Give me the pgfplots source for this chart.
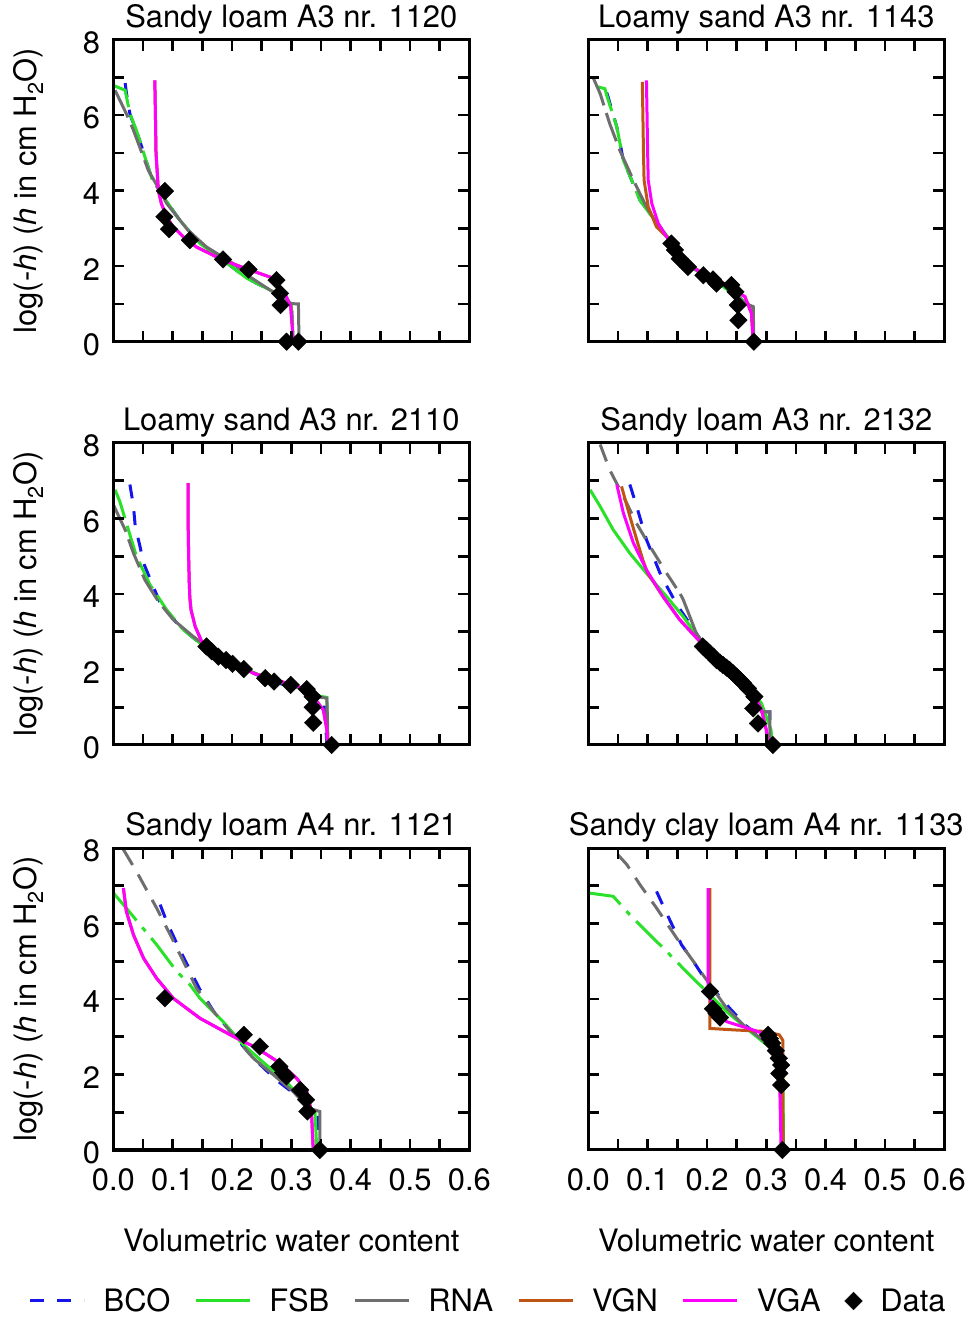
\documentclass[border=0pt]{standalone}
\usepackage{pgfplots}
\pgfplotsset{compat=1.18}
\usepackage{fontspec}
\setmainfont{TeX Gyre Heros}
\newcommand\fs{\fontsize{31}{37}\selectfont}
\definecolor{cB}{RGB}{20,20,235}
\definecolor{cF}{RGB}{40,225,40}
\definecolor{cR}{RGB}{110,110,110}
\definecolor{cN}{RGB}{190,85,20}
\definecolor{cA}{RGB}{255,0,255}

\pgfplotsset{
  panel/.style={scale only axis, width=356bp, height=302bp, anchor=south west,
    xmin=0, xmax=0.6, ymin=0, ymax=8,
    xtick={0,0.1,0.2,0.3,0.4,0.5,0.6}, minor xtick={0.05,0.15,0.25,0.35,0.45,0.55},
    ytick={0,2,4,6,8}, minor ytick={1,3,5,7},
    xticklabels={}, yticklabels={},
    tick align=inside, major tick length=11bp, minor tick length=11bp,
    axis line style={line width=3bp}, tick style={black, line width=2.6bp},
    tick label style={font=\fs},
    title style={at={(0.5,1.022)}, anchor=base, font=\fs},
    label style={font=\fs},
    axis on top},
  leftcol/.style={yticklabels={0,2,4,6,8},
    yticklabel style={anchor=east, inner sep=0pt, xshift=-13bp, yshift=-3bp},
    ylabel={log(-\textit{h}) (\textit{h} in cm H\textsubscript{2}O)},
    ylabel style={at={(axis description cs:-0.2163,0.5)}, anchor=base}},
  bottomrow/.style={xticklabels={0.0,0.1,0.2,0.3,0.4,0.5,0.6},
    xticklabel style={anchor=base, inner sep=0pt, yshift=-40bp},
    xlabel={Volumetric water content},
    xlabel style={at={(axis description cs:0.5,-0.3368)}, anchor=base}},
  bco/.style={color=cB, line width=3bp, mark=none, dash pattern=on 14bp off 13bp},
  fsb/.style={color=cF, line width=3bp, mark=none},
  rna/.style={color=cR, line width=3bp, mark=none},
  vgn/.style={color=cN, line width=3bp, mark=none},
  vga/.style={color=cA, line width=3bp, mark=none},
  ext/.style={dash pattern=on 30bp off 8bp},
  rnax/.style={dash pattern=on 18bp off 11bp},
  fsbx/.style={dash pattern=on 36bp off 9bp on 5bp off 9bp},
  dat/.style={only marks, mark=square*, mark size=6.2bp,
    mark options={rotate=45, fill=black, draw=black, solid}},
}

\begin{document}
\begin{tikzpicture}
\useasboundingbox (0bp,0bp) rectangle (969bp,1319bp);

% Sandy loam A3 nr. 1120
\begin{axis}[panel, leftcol, at={(113.3bp,977.3bp)}, title={Sandy loam A3 nr. 1120}]
\addplot[bco] coordinates {(0.020,6.85)(0.022,6.6)(0.028,6.04)(0.031,5.9)(0.039,5.6)(0.065,4.32)(0.080,3.95)(0.095,3.6)(0.112,3.22)(0.146,2.60)(0.185,2.16)(0.225,1.68)(0.270,1.32)(0.289,1.19)(0.300,1.0)(0.302,0.5)(0.303,0)};
\addplot[fsb, ext] coordinates {(0.0,6.79)(0.020,6.66)(0.028,6.04)(0.039,5.6)(0.065,4.32)(0.080,3.95)};
\addplot[fsb] coordinates {(0.080,3.95)(0.095,3.6)(0.112,3.22)(0.146,2.60)(0.185,2.16)(0.225,1.68)(0.270,1.32)(0.289,1.19)(0.300,1.0)(0.302,0.5)(0.303,0)};
\addplot[rna, ext] coordinates {(0.003,6.66)(0.022,6.04)(0.034,5.6)(0.059,4.54)(0.075,4.1)};
\addplot[rna] coordinates {(0.075,4.1)(0.09,3.66)(0.126,2.95)(0.157,2.51)(0.202,2.07)(0.230,1.72)(0.264,1.37)(0.284,1.19)(0.298,1.01)(0.312,1.0)(0.313,0)};
\addplot[vgn] coordinates {(0.070,6.92)(0.071,6.0)(0.072,5.0)(0.074,4.5)(0.076,4.0)(0.081,3.66)(0.090,3.3)(0.101,3.04)(0.120,2.75)(0.140,2.51)(0.185,2.16)(0.230,1.9)(0.270,1.68)(0.289,1.28)(0.299,0.93)(0.302,0.31)(0.303,0)};
\addplot[vga] coordinates {(0.070,6.92)(0.071,6.0)(0.072,5.0)(0.074,4.5)(0.076,4.0)(0.081,3.66)(0.090,3.3)(0.101,3.04)(0.120,2.75)(0.140,2.51)(0.185,2.16)(0.230,1.9)(0.270,1.68)(0.289,1.28)(0.299,0.93)(0.302,0.31)(0.303,0)};
\addplot[dat] coordinates {(0.087,3.99)(0.086,3.31)(0.094,2.98)(0.129,2.69)(0.185,2.18)(0.228,1.91)(0.275,1.63)(0.281,1.28)(0.282,0.97)(0.292,0)(0.312,0)};
\end{axis}

% Loamy sand A3 nr. 1143
\begin{axis}[panel, at={(588.3bp,977.3bp)}, title={Loamy sand A3 nr. 1143}]
\addplot[bco] coordinates {(0.031,6.6)(0.033,6.5)(0.048,5.69)(0.059,4.81)(0.087,3.75)(0.121,3.04)(0.140,2.65)(0.165,2.07)(0.194,1.76)(0.227,1.46)(0.264,1.06)(0.275,0.93)(0.278,0)};
\addplot[fsb, ext] coordinates {(0.017,6.75)(0.028,6.70)(0.031,6.53)(0.048,5.69)(0.059,4.81)(0.087,3.75)(0.110,3.25)};
\addplot[fsb] coordinates {(0.110,3.25)(0.121,3.04)(0.140,2.65)(0.165,2.07)(0.194,1.76)(0.227,1.46)(0.264,1.06)(0.275,0.93)(0.278,0)};
\addplot[rna, ext] coordinates {(0.008,7.0)(0.020,6.57)(0.036,5.78)(0.053,5.07)(0.076,4.28)(0.098,3.57)};
\addplot[rna] coordinates {(0.098,3.57)(0.123,2.95)(0.140,2.65)(0.165,2.1)(0.194,1.8)(0.238,1.46)(0.264,1.01)(0.278,0.93)(0.279,0)};
\addplot[vgn] coordinates {(0.091,6.88)(0.092,6.0)(0.093,5.0)(0.094,4.28)(0.101,3.57)(0.115,3.04)(0.132,2.78)(0.145,2.5)(0.165,2.07)(0.188,1.85)(0.233,1.50)(0.264,1.19)(0.275,0.75)(0.278,0)};
\addplot[vga] coordinates {(0.098,6.92)(0.099,6.0)(0.100,5.0)(0.101,4.28)(0.107,3.66)(0.118,3.13)(0.132,2.78)(0.145,2.5)(0.165,2.07)(0.188,1.85)(0.233,1.50)(0.264,1.19)(0.275,0.75)(0.278,0)};
\addplot[dat] coordinates {(0.140,2.60)(0.146,2.43)(0.154,2.20)(0.168,1.98)(0.194,1.76)(0.210,1.65)(0.216,1.54)(0.241,1.50)(0.248,1.32)(0.252,0.97)(0.253,0.57)(0.279,0)};
\end{axis}

% Loamy sand A3 nr. 2110
\begin{axis}[panel, leftcol, at={(113.3bp,574bp)}, title={Loamy sand A3 nr. 2110}]
\addplot[bco] coordinates {(0.028,6.9)(0.034,6.32)(0.037,5.79)(0.045,5.26)(0.051,4.82)(0.062,4.4)(0.079,3.76)(0.107,3.23)(0.130,2.90)(0.146,2.70)(0.157,2.61)(0.190,2.25)(0.22,2.0)(0.27,1.68)(0.33,1.4)(0.355,1.25)(0.36,0)};
\addplot[fsb, ext] coordinates {(0.003,6.76)(0.011,6.45)(0.022,5.88)(0.039,5.0)(0.062,4.24)(0.090,3.58)(0.118,3.05)};
\addplot[fsb] coordinates {(0.118,3.05)(0.146,2.70)(0.160,2.58)(0.190,2.28)(0.22,2.03)(0.26,1.76)(0.30,1.58)(0.33,1.42)(0.345,1.30)(0.360,1.26)(0.361,0)};
\addplot[rna, ext] coordinates {(0.0,6.37)(0.008,6.10)(0.020,5.70)(0.034,5.08)(0.053,4.38)(0.076,3.80)(0.101,3.32)};
\addplot[rna] coordinates {(0.101,3.32)(0.135,2.87)(0.157,2.62)(0.190,2.26)(0.22,2.02)(0.26,1.76)(0.30,1.58)(0.326,1.46)(0.343,1.28)(0.360,1.24)(0.362,0)};
\addplot[vgn] coordinates {(0.126,6.94)(0.126,6.0)(0.127,5.0)(0.128,4.3)(0.129,3.9)(0.131,3.58)(0.138,3.14)(0.149,2.74)(0.160,2.58)(0.190,2.28)(0.236,1.90)(0.292,1.64)(0.320,1.5)(0.337,1.28)(0.354,0.93)(0.360,0.4)(0.361,0)};
\addplot[vga] coordinates {(0.126,6.94)(0.126,6.0)(0.127,5.0)(0.128,4.3)(0.129,3.9)(0.131,3.58)(0.138,3.14)(0.149,2.74)(0.160,2.58)(0.190,2.28)(0.236,1.90)(0.292,1.64)(0.320,1.5)(0.337,1.28)(0.354,0.93)(0.360,0.4)(0.361,0)};
\addplot[dat] coordinates {(0.157,2.61)(0.166,2.48)(0.177,2.34)(0.190,2.25)(0.201,2.15)(0.220,2.01)(0.256,1.77)(0.271,1.68)(0.299,1.59)(0.326,1.48)(0.336,1.28)(0.336,1.0)(0.337,0.59)(0.368,0)};
\end{axis}

% Sandy loam A3 nr. 2132
\begin{axis}[panel, at={(588.3bp,574bp)}, title={Sandy loam A3 nr. 2132}]
\addplot[bco] coordinates {(0.070,6.90)(0.080,6.4)(0.098,5.44)(0.123,4.47)(0.150,3.7)(0.182,2.96)(0.193,2.70)(0.22,2.25)(0.25,1.85)(0.283,1.28)(0.292,0.88)(0.306,0.88)(0.306,0)};
\addplot[fsb] coordinates {(0.003,6.76)(0.020,6.32)(0.042,5.70)(0.070,5.08)(0.098,4.55)(0.132,3.93)(0.160,3.40)(0.188,2.79)(0.205,2.5)(0.23,2.1)(0.26,1.7)(0.28,1.35)(0.292,1.1)(0.300,0.75)(0.308,0.4)(0.310,0)};
\addplot[rna, rnax] coordinates {(0.020,7.96)(0.036,7.29)(0.059,6.59)(0.081,5.88)(0.104,5.26)(0.132,4.55)(0.155,4.0)};
\addplot[rna] coordinates {(0.155,4.0)(0.160,3.85)(0.182,2.96)(0.193,2.70)(0.22,2.25)(0.25,1.85)(0.283,1.28)(0.292,0.88)(0.306,0.88)(0.306,0)};
\addplot[vgn] coordinates {(0.056,6.85)(0.070,6.06)(0.084,5.31)(0.092,4.9)(0.100,4.55)(0.126,3.93)(0.154,3.32)(0.188,2.74)(0.205,2.5)(0.23,2.15)(0.255,1.8)(0.278,1.37)(0.292,0.93)(0.300,0.4)(0.303,0)};
\addplot[vga] coordinates {(0.048,6.90)(0.059,6.15)(0.076,5.35)(0.098,4.64)(0.126,3.93)(0.154,3.32)(0.188,2.74)(0.205,2.5)(0.23,2.15)(0.255,1.8)(0.278,1.37)(0.292,0.93)(0.300,0.4)(0.303,0)};
\addplot[dat] coordinates {(0.193,2.61)(0.199,2.52)(0.205,2.43)(0.211,2.34)(0.216,2.25)(0.222,2.18)(0.227,2.12)(0.233,2.05)(0.238,1.99)(0.244,1.90)(0.250,1.81)(0.256,1.72)(0.261,1.64)(0.269,1.50)(0.280,1.28)(0.278,0.97)(0.286,0.57)(0.311,0)};
\end{axis}

% Sandy loam A4 nr. 1121
\begin{axis}[panel, leftcol, bottomrow, at={(113.3bp,169bp)}, title={Sandy loam A4 nr. 1121},
  legend style={at={(1.05,-0.5)}, anchor=center, draw=none, fill=none, font=\fs,
    legend columns=6, nodes={inner xsep=0pt},
    /tikz/every even column/.append style={column sep=24bp},
    /tikz/every odd column/.append style={column sep=18bp}},
  legend image code/.code={\draw[mark repeat=2,mark phase=2,#1] plot coordinates {(0bp,0bp) (27bp,0bp) (54bp,0bp)};}]
\addplot[bco] coordinates {(0.079,6.50)(0.090,6.05)(0.112,5.30)(0.146,4.25)(0.17,3.65)(0.20,3.1)(0.235,2.45)(0.275,1.85)(0.30,1.55)(0.33,1.1)(0.345,1.02)(0.346,0)};
\addplot[fsb, fsbx, forget plot] coordinates {(0.0,6.81)(0.017,6.50)(0.045,5.97)(0.073,5.44)(0.107,4.73)(0.129,4.38)};
\addplot[fsb] coordinates {(0.129,4.38)(0.146,4.02)(0.185,3.40)(0.219,2.79)(0.258,2.25)(0.292,1.81)(0.320,1.28)(0.340,1.02)(0.343,0)};
\addplot[rna, rnax, forget plot] coordinates {(0.017,7.96)(0.039,7.38)(0.073,6.41)(0.096,5.70)(0.118,5.0)(0.140,4.29)(0.169,3.67)(0.197,3.14)(0.236,2.43)};
\addplot[rna] coordinates {(0.236,2.43)(0.270,1.99)(0.303,1.55)(0.329,1.11)(0.348,1.02)(0.348,0)};
\addplot[vgn] coordinates {(0.017,6.94)(0.022,6.32)(0.034,5.70)(0.051,5.08)(0.073,4.55)(0.101,4.02)(0.146,3.49)(0.202,3.01)(0.242,2.70)(0.281,2.30)(0.309,1.90)(0.326,1.55)(0.334,1.02)(0.337,0)};
\addplot[vga] coordinates {(0.017,6.94)(0.022,6.32)(0.034,5.70)(0.051,5.08)(0.073,4.55)(0.101,4.02)(0.146,3.49)(0.202,3.01)(0.242,2.70)(0.281,2.30)(0.309,1.90)(0.326,1.55)(0.334,1.02)(0.337,0)};
\addplot[dat] coordinates {(0.087,4.02)(0.220,3.05)(0.247,2.74)(0.280,2.21)(0.286,2.05)(0.292,1.95)(0.315,1.59)(0.325,1.33)(0.327,1.02)(0.348,0)};
\legend{BCO,FSB,RNA,VGN,VGA,Data}
\end{axis}

% Sandy clay loam A4 nr. 1133
\begin{axis}[panel, bottomrow, at={(588.3bp,169bp)}, title={Sandy clay loam A4 nr. 1133}]
\addplot[bco] coordinates {(0.115,6.85)(0.129,6.37)(0.157,5.44)(0.179,4.95)(0.199,4.47)(0.238,3.76)(0.265,3.3)(0.29,3.0)(0.31,2.7)(0.325,2.17)(0.329,0)};
\addplot[fsb, fsbx] coordinates {(0.0,6.81)(0.042,6.72)(0.070,6.23)(0.098,5.79)(0.132,5.26)(0.165,4.73)(0.199,4.20)};
\addplot[fsb] coordinates {(0.199,4.20)(0.233,3.67)(0.266,3.23)(0.294,2.87)(0.317,2.61)(0.328,2.17)(0.329,0)};
\addplot[rna, rnax] coordinates {(0.050,7.82)(0.065,7.56)(0.087,7.03)(0.115,6.41)(0.149,5.61)(0.177,5.0)(0.205,4.38)};
\addplot[rna] coordinates {(0.205,4.38)(0.233,3.76)(0.261,3.32)(0.283,3.05)(0.311,2.70)(0.325,2.17)(0.329,0)};
\addplot[vgn] coordinates {(0.205,6.94)(0.205,3.22)(0.247,3.18)(0.300,3.14)(0.322,3.05)(0.328,2.9)(0.328,0)};
\addplot[vga] coordinates {(0.202,6.94)(0.202,4.2)(0.210,3.76)(0.233,3.40)(0.278,3.18)(0.300,3.05)(0.317,2.79)(0.322,2.17)(0.325,0)};
\addplot[dat] coordinates {(0.205,4.20)(0.210,3.74)(0.216,3.62)(0.222,3.51)(0.303,3.05)(0.306,2.95)(0.310,2.83)(0.316,2.63)(0.321,2.43)(0.325,2.25)(0.322,2.03)(0.325,1.72)(0.327,0)};
\end{axis}
\end{tikzpicture}
\end{document}
